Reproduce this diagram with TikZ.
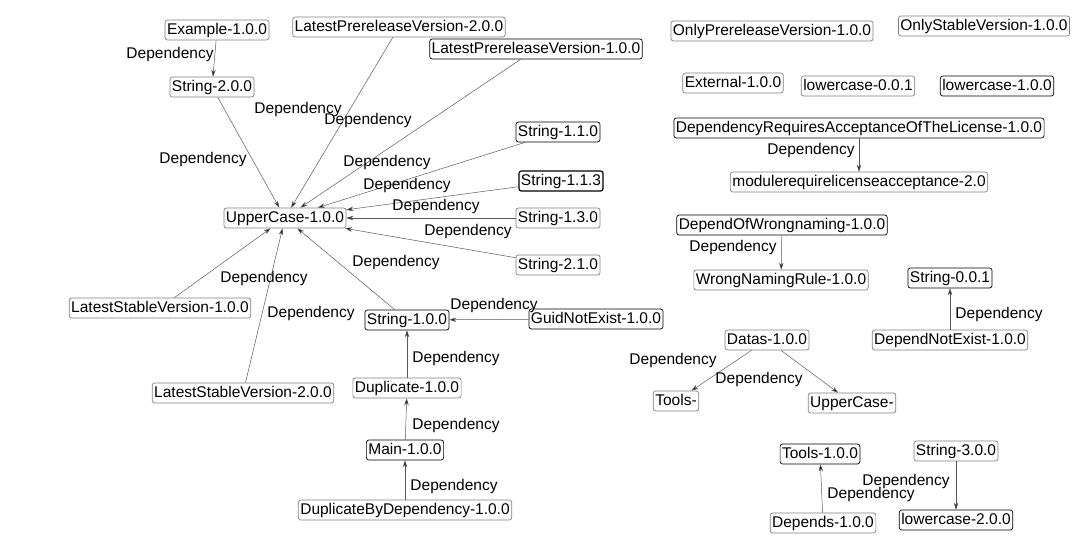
\documentclass[tikz,border=0pt]{standalone}
\usepackage{fontspec}
\setmainfont{Liberation Sans}
\usetikzlibrary{arrows.meta}

\begin{document}
\begin{tikzpicture}[x=1pt,y=-1pt,
  pkg/.style={draw=black!50,line width=0.7pt,rounded corners=2.5pt,fill=white,inner xsep=2pt,inner ysep=2.5pt,
    text height=11.5pt,text depth=3.5pt,font=\fontsize{15.5}{17}\selectfont},
  dark/.style={pkg,draw=black},
  bold/.style={pkg,draw=black,line width=1.2pt},
  dep/.style={draw=gray!70!black,line width=0.5pt,-{Stealth[length=7pt,width=4.5pt,fill=black]}},
  lbl/.style={font=\fontsize{15.5}{17}\selectfont,inner sep=0pt}]
\useasboundingbox (0,0) rectangle (1083,544);

\node[pkg] (ex) at (217,30) {Example-1.0.0};
\node[pkg] (s200) at (212,87) {String-2.0.0};
\node[pkg] (lpv2) at (399,27) {LatestPrereleaseVersion-2.0.0};
\node[dark] (lpv1) at (536,49) {LatestPrereleaseVersion-1.0.0};
\node[dark] (s110) at (558,132) {String-1.1.0};
\node[bold] (s113) at (561,181) {String-1.1.3};
\node[pkg] (s130) at (558,218) {String-1.3.0};
\node[pkg] (s210) at (558,265) {String-2.1.0};
\node[pkg] (uc) at (285,218) {UpperCase-1.0.0};
\node[pkg] (lsv1) at (160,308) {LatestStableVersion-1.0.0};
\node[pkg] (lsv2) at (243,393) {LatestStableVersion-2.0.0};
\node[dark] (s100) at (407,320) {String-1.0.0};
\node[dark] (guid) at (596,319) {GuidNotExist-1.0.0};
\node[pkg] (dup) at (407,388) {Duplicate-1.0.0};
\node[dark] (main) at (405,450) {Main-1.0.0};
\node[pkg] (dbd) at (405,510) {DuplicateByDependency-1.0.0};

\node[pkg] (opv) at (772,31) {OnlyPrereleaseVersion-1.0.0};
\node[pkg] (osv) at (984,26) {OnlyStableVersion-1.0.0};
\node[pkg] (ext) at (733,83) {External-1.0.0};
\node[pkg] (lc001) at (858,86) {lowercase-0.0.1};
\node[dark] (lc100) at (997,86) {lowercase-1.0.0};
\node[dark] (drl) at (859,128) {DependencyRequiresAcceptanceOfTheLicense-1.0.0};
\node[pkg] (mrla) at (859,182) {modulerequirelicenseacceptance-2.0};
\node[dark] (dow) at (782,225) {DependOfWrongnaming-1.0.0};
\node[pkg] (wnr) at (781,280) {WrongNamingRule-1.0.0};
\node[dark] (s001) at (950,278) {String-0.0.1};
\node[pkg] (dne) at (950,340) {DependNotExist-1.0.0};
\node[pkg] (datas) at (767,340) {Datas-1.0.0};
\node[pkg] (tools) at (676,401) {Tools-};
\node[pkg] (ucx) at (852,403) {UpperCase-};
\node[dark] (t100) at (820,454) {Tools-1.0.0};
\node[pkg] (s300) at (956,451) {String-3.0.0};
\node[pkg] (depends) at (823,523) {Depends-1.0.0};
\node[dark] (lc200) at (956,520) {lowercase-2.0.0};

\draw[dep] (ex) -- (s200);
\node[lbl] at (170,54) {Dependency};
\draw[dep] (s200) -- (uc);
\node[lbl] at (203,159) {Dependency};
\draw[dep] (lpv2) -- (uc);
\node[lbl] at (298,109) {Dependency};
\draw[dep] (lpv1) -- (uc);
\node[lbl] at (368,120) {Dependency};
\draw[dep] (s110) -- (uc);
\node[lbl] at (387,162) {Dependency};
\draw[dep] (s113) -- (uc);
\node[lbl] at (407,185) {Dependency};
\draw[dep] (s130) -- (uc);
\node[lbl] at (436,206) {Dependency};
\draw[dep] (s210) -- (uc);
\node[lbl] at (468,231) {Dependency};
\draw[dep] (s100) -- (uc);
\node[lbl] at (396,262) {Dependency};
\draw[dep] (lsv1) -- (uc);
\node[lbl] at (264,278) {Dependency};
\draw[dep] (lsv2) -- (uc);
\node[lbl] at (311,313) {Dependency};
\draw[dep] (guid) -- (s100);
\node[lbl] at (494,305) {Dependency};
\draw[dep] (dup) -- (s100);
\node[lbl] at (456,358) {Dependency};
\draw[dep] (main) -- (dup);
\node[lbl] at (456,425) {Dependency};
\draw[dep] (dbd) -- (main);
\node[lbl] at (454,486) {Dependency};

\draw[dep] (drl) -- (mrla);
\node[lbl] at (811,150) {Dependency};
\draw[dep] (dow) -- (wnr);
\node[lbl] at (733,247) {Dependency};
\draw[dep] (dne) -- (s001);
\node[lbl] at (999,314) {Dependency};
\draw[dep] (datas) -- (tools);
\node[lbl] at (673,360) {Dependency};
\draw[dep] (datas) -- (ucx);
\node[lbl] at (759,379) {Dependency};
\draw[dep] (depends) -- (t100);
\node[lbl] at (871,494) {Dependency};
\draw[dep] (s300) -- (lc200);
\node[lbl] at (906,481) {Dependency};
\end{tikzpicture}
\end{document}
